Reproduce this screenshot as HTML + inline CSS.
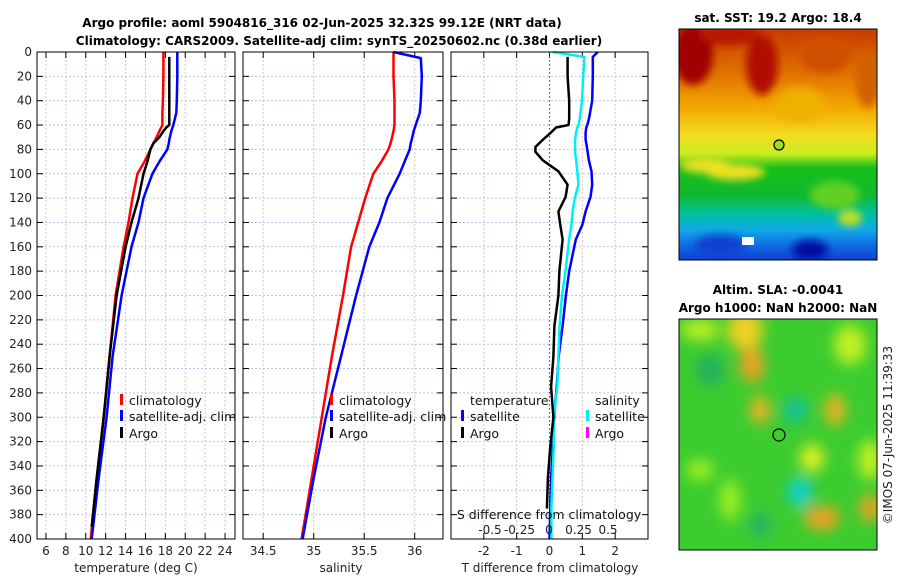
<!DOCTYPE html>
<html><head><meta charset="utf-8">
<style>
body{margin:0;background:#fff;}
svg{display:block;font-family:"DejaVu Sans","Liberation Sans",sans-serif;}
.t{font-weight:bold;font-size:12px;fill:#000;}
.tk{font-size:12px;fill:#222;}
.lg{font-size:12.5px;fill:#111;}
</style></head><body>
<svg id="chart" width="900" height="580" viewBox="0 0 900 580" xmlns="http://www.w3.org/2000/svg">
<defs>
<filter id="bl" x="-50%" y="-50%" width="200%" height="200%"><feGaussianBlur stdDeviation="7"/></filter>
<filter id="bl2" x="-50%" y="-50%" width="200%" height="200%"><feGaussianBlur stdDeviation="4"/></filter>
<linearGradient id="sstg" x1="0" y1="0" x2="0" y2="1">
<stop offset="0" stop-color="#c83c00"/><stop offset="0.2" stop-color="#e27400"/><stop offset="0.34" stop-color="#f2a800"/>
<stop offset="0.46" stop-color="#f4dc20"/><stop offset="0.54" stop-color="#c8ec20"/><stop offset="0.6" stop-color="#18c018"/>
<stop offset="0.72" stop-color="#10b830"/><stop offset="0.8" stop-color="#00c0a0"/><stop offset="0.87" stop-color="#10a8e8"/>
<stop offset="0.95" stop-color="#1060e0"/><stop offset="1" stop-color="#1040d0"/></linearGradient>
<clipPath id="c1"><rect x="679" y="29" width="198" height="231"/></clipPath>
<clipPath id="c2"><rect x="679" y="319" width="198" height="231"/></clipPath>
</defs>
<text class="t" x="322" y="27" text-anchor="middle">Argo profile: aoml 5904816_316 02-Jun-2025 32.32S 99.12E (NRT data)</text>
<text class="t" x="339" y="45" text-anchor="middle">Climatology: CARS2009. Satellite-adj clim: synTS_20250602.nc (0.38d earlier)</text>
<g id="p1"></g>
<g id="p2"></g>
<g id="p3"></g>

<g>
<text class="t" x="778" y="22" text-anchor="middle">sat. SST: 19.2 Argo: 18.4</text>
<g clip-path="url(#c1)">
<rect x="679" y="29" width="198" height="231" fill="url(#sstg)"/>
<g filter="url(#bl2)">
<ellipse cx="693" cy="55" rx="20" ry="30" fill="#a00000"/>
<ellipse cx="762" cy="65" rx="16" ry="30" fill="#b01000"/>
<ellipse cx="730" cy="35" rx="30" ry="10" fill="#b81800"/>
<ellipse cx="825" cy="55" rx="25" ry="18" fill="#d05000"/>
<ellipse cx="868" cy="80" rx="12" ry="28" fill="#d06000"/>
<ellipse cx="800" cy="105" rx="25" ry="18" fill="#f0b000"/>
<ellipse cx="705" cy="165" rx="25" ry="8" fill="#e8e020"/>
<ellipse cx="735" cy="172" rx="30" ry="8" fill="#f0e020"/>
<ellipse cx="835" cy="195" rx="25" ry="14" fill="#60d020"/>
<ellipse cx="850" cy="218" rx="12" ry="8" fill="#c0e020"/>
<ellipse cx="810" cy="250" rx="18" ry="10" fill="#0010a0"/>
<ellipse cx="720" cy="245" rx="25" ry="10" fill="#1040d0"/>
</g>
<rect x="742" y="237" width="12" height="8" fill="#fff"/>
</g>
<rect x="679" y="29" width="198" height="231" fill="none" stroke="#000"/>
<circle cx="779" cy="145" r="5" fill="#9ae020" stroke="#000" stroke-width="1.2"/>
</g>

<g>
<text class="t" x="778" y="294" text-anchor="middle">Altim. SLA: -0.0041</text>
<text class="t" x="778" y="312" text-anchor="middle">Argo h1000: NaN h2000: NaN</text>
<g clip-path="url(#c2)">
<rect x="679" y="319" width="198" height="231" fill="#3ccc30"/>
<g filter="url(#bl)">
<ellipse cx="745" cy="330" rx="18" ry="20" fill="#f0d020"/>
<ellipse cx="752" cy="365" rx="12" ry="18" fill="#f0a020"/>
<ellipse cx="760" cy="410" rx="10" ry="14" fill="#f0b020"/>
<ellipse cx="835" cy="410" rx="10" ry="16" fill="#f0b020"/>
<ellipse cx="700" cy="330" rx="20" ry="10" fill="#c0f020"/>
<ellipse cx="850" cy="345" rx="16" ry="20" fill="#c0f020"/>
<ellipse cx="795" cy="410" rx="12" ry="12" fill="#10c0a0"/>
<ellipse cx="800" cy="492" rx="12" ry="15" fill="#10d0d0"/>
<ellipse cx="812" cy="458" rx="12" ry="14" fill="#e0f020"/>
<ellipse cx="870" cy="460" rx="12" ry="20" fill="#c0f020"/>
<ellipse cx="822" cy="518" rx="18" ry="12" fill="#f0a020"/>
<ellipse cx="870" cy="508" rx="10" ry="14" fill="#f0a020"/>
<ellipse cx="710" cy="370" rx="14" ry="16" fill="#20b060"/>
<ellipse cx="760" cy="525" rx="10" ry="12" fill="#20b070"/>
<ellipse cx="700" cy="470" rx="14" ry="10" fill="#a0f020"/>
<ellipse cx="730" cy="500" rx="10" ry="20" fill="#a0f020"/>
</g>
</g>
<rect x="679" y="319" width="198" height="231" fill="none" stroke="#000"/>
<circle cx="779" cy="435" r="6" fill="none" stroke="#000" stroke-width="1.2"/>
</g>
<text class="tk" transform="translate(892,435) rotate(-90)" text-anchor="middle">©IMOS 07-Jun-2025 11:39:33</text>
</svg>
<script>
const depths=[0,5,20,40,50,60,65,72,75,80,90,100,120,140,160,200,250,300,350,400];
const tempClim=[17.8,17.8,17.8,17.75,17.7,17.7,17.4,17.0,16.8,16.5,15.9,15.2,14.7,14.3,13.8,13.0,12.4,11.8,11.1,10.5];
const tempSat=[19.2,19.2,19.2,19.15,19.1,18.8,18.6,18.4,18.35,18.2,17.4,16.7,15.8,15.3,14.6,13.6,12.7,12.1,11.3,10.6];
const argoDepths=[4,20,40,60,62,65,70,75,80,90,100,120,140,160,200,250,300,350,390];
const tempArgo=[18.4,18.4,18.4,18.4,18.1,17.8,17.4,16.8,16.5,16.2,15.8,15.3,14.6,14.0,13.1,12.4,11.8,11.1,10.6];
const salClim=[35.79,35.79,35.79,35.8,35.8,35.8,35.79,35.77,35.76,35.74,35.67,35.59,35.51,35.44,35.37,35.29,35.18,35.08,34.98,34.88];
const salSat=[35.79,36.06,36.07,36.06,36.05,36.01,35.99,35.97,35.96,35.95,35.9,35.85,35.73,35.65,35.55,35.42,35.27,35.12,35.0,34.89];
const diffDepths=[0,4,20,40,55,60,62,66,72,78,82,89,98,109,119,131,142,154,180,200,225,250,275,300,325,350,375,400];
const tDiffSat=[1.47,1.32,1.32,1.3,1.2,1.15,1.12,1.1,1.1,1.14,1.16,1.2,1.28,1.3,1.25,1.1,1.0,0.8,0.6,0.5,0.4,0.28,0.22,0.14,0.1,0.05,0.02,0.0];
const tDiffArgo=[null,0.55,0.55,0.6,0.6,0.58,0.2,0.05,-0.2,-0.43,-0.43,-0.2,0.27,0.55,0.49,0.27,0.33,0.4,0.3,0.27,0.15,0.12,0.05,0.12,0.02,-0.05,-0.08,null];
const sDiffSat=[0.03,0.3,0.29,0.28,0.26,0.25,0.24,0.23,0.22,0.22,0.22,0.23,0.24,0.25,0.22,0.2,0.19,0.17,0.14,0.11,0.09,0.08,0.07,0.04,0.04,0.03,0.02,0.02];
const tTicks=[6,8,10,12,14,16,18,20,22,24];
const sTicks=[34.5,35,35.5,36];
const dTicks=[-2,-1,0,1,2];
const sdTicks=[-0.5,-0.25,0,0.25,0.5];
const sdTickLabels=["-0.5","-0.25","0","0.25","0.5"];
const depthTicks=[0,20,40,60,80,100,120,140,160,180,200,220,240,260,280,300,320,340,360,380,400];

const NS="http://www.w3.org/2000/svg";
const Y0=52,Y1=539;
function yD(d){return Y0+(d/400)*(Y1-Y0);}
function mk(tag,attrs,parent){const e=document.createElementNS(NS,tag);for(const k in attrs)e.setAttribute(k,attrs[k]);parent.appendChild(e);return e;}
function panel(g,x0,x1,xmin,xmax,ticks,labels,name){
  const sx=v=>x0+(v-xmin)/(xmax-xmin)*(x1-x0);
  mk('rect',{x:x0,y:Y0,width:x1-x0,height:Y1-Y0,fill:'#fff'},g);
  depthTicks.forEach(d=>{const l=mk('line',{x1:x0,x2:x1,y1:yD(d),y2:yD(d),stroke:'#b8c4ee','stroke-dasharray':'2,2','stroke-width':1},g);
    
    mk('line',{x1:x0,x2:x0+6,y1:yD(d),y2:yD(d),stroke:'#000'},g);mk('line',{x1:x1-6,x2:x1,y1:yD(d),y2:yD(d),stroke:'#000'},g);});
  ticks.forEach((v,i)=>{const x=sx(v);const l=mk('line',{x1:x,x2:x,y1:Y0,y2:Y1,stroke:'#e8c0b8','stroke-dasharray':'2,2'},g);
    
    mk('line',{x1:x,x2:x,y1:Y1-6,y2:Y1,stroke:'#000'},g);mk('line',{x1:x,x2:x,y1:Y0,y2:Y0+6,stroke:'#000'},g);
    if(labels){const t=mk('text',{x:x,y:555,'text-anchor':'middle',class:'tk'},g);t.textContent=labels[i];
      }});
  return sx;
}
function line(g,sx,ys,vs,color,w,name){
  let segs=[],cur=[];
  vs.forEach((v,i)=>{if(v===null){if(cur.length)segs.push(cur);cur=[];}else cur.push(sx(v).toFixed(1)+','+yD(ys[i]).toFixed(1));});
  if(cur.length)segs.push(cur);
  segs.forEach(s=>{const p=mk('polyline',{points:s.join(' '),fill:'none',stroke:color,'stroke-width':w,'stroke-linejoin':'round'},g);
    });
}
function frame(g,x0,x1){mk('rect',{x:x0,y:Y0,width:x1-x0,height:Y1-Y0,fill:'none',stroke:'#000','stroke-width':1},g);}
function legendItem(g,x,y,color,label,name){
  mk('rect',{x:x,y:y-11,width:3,height:11,fill:color},g);
  const t=mk('text',{x:x+9,y:y,class:'lg'},g);t.textContent=label;
  
}
// panel 1
const g1=document.getElementById('p1');
const sx1=panel(g1,37,235,5.1,25,tTicks,tTicks.map(String),'temp');
depthTicks.forEach(d=>{const t=mk('text',{x:32,y:yD(d)+4,'text-anchor':'end',class:'tk'},g1);t.textContent=d;
  });
line(g1,sx1,depths,tempClim,'#f00',2.5,'temp-climatology-line');
line(g1,sx1,depths,tempSat,'#00f',2.5,'temp-satellite-line');
line(g1,sx1,argoDepths,tempArgo,'#000',2.5,'temp-argo-line');
frame(g1,37,235);
legendItem(g1,120,405,'#f00','climatology','legend-climatology');
legendItem(g1,120,421,'#00f','satellite-adj. clim','legend-satellite');
legendItem(g1,120,438,'#000','Argo','legend-argo');
{const t=mk('text',{x:136,y:572,'text-anchor':'middle',class:'tk'},g1);t.textContent='temperature (deg C)';
}
// panel 2
const g2=document.getElementById('p2');
const sx2=panel(g2,243,443,34.3,36.28,sTicks,sTicks.map(String),'sal');
line(g2,sx2,depths,salClim,'#f00',2.5,'sal-climatology-line');
line(g2,sx2,depths,salSat,'#00f',2.5,'sal-satellite-line');
frame(g2,243,443);
legendItem(g2,330,405,'#f00','climatology','legend-sal-climatology');
legendItem(g2,330,421,'#00f','satellite-adj. clim','legend-sal-satellite');
legendItem(g2,330,438,'#000','Argo','legend-sal-argo');
{const t=mk('text',{x:341,y:572,'text-anchor':'middle',class:'tk'},g2);t.textContent='salinity';
}
// panel 3
const g3=document.getElementById('p3');
const sx3=panel(g3,451,648,-3,3,dTicks,dTicks.map(String),'diff');
const sxS=v=>549+v*118;
mk('line',{x1:sx3(0),x2:sx3(0),y1:Y0,y2:Y1,stroke:'#556b2f','stroke-dasharray':'1.5,2.5','stroke-width':1.2},g3);
line(g3,sx3,diffDepths,tDiffSat,'#00f',2.5,'tdiff-satellite-line');
line(g3,sxS,diffDepths,sDiffSat,'#00f0f0',2.5,'sdiff-satellite-line');
line(g3,sx3,diffDepths,tDiffArgo,'#000',2.5,'tdiff-argo-line');
frame(g3,451,648);
sdTicks.forEach((v,i)=>{const t=mk('text',{x:sxS(v),y:534,'text-anchor':'middle',class:'tk'},g3);t.textContent=sdTickLabels[i];
  });
{const t=mk('text',{x:549,y:519,'text-anchor':'middle',class:'lg'},g3);t.textContent='S difference from climatology';
}
{const t=mk('text',{x:550,y:572,'text-anchor':'middle',class:'tk'},g3);t.textContent='T difference from climatology';
}
{const t=mk('text',{x:470,y:405,class:'lg'},g3);t.textContent='temperature';}
{const t=mk('text',{x:595,y:405,class:'lg'},g3);t.textContent='salinity';}
legendItem(g3,461,421,'#00f','satellite','legend-tdiff-satellite');
legendItem(g3,461,438,'#000','Argo','legend-tdiff-argo');
legendItem(g3,586,421,'#00f0f0','satellite','legend-sdiff-satellite');
legendItem(g3,586,438,'#f0f','Argo','legend-sdiff-argo');
</script>
</body></html>
